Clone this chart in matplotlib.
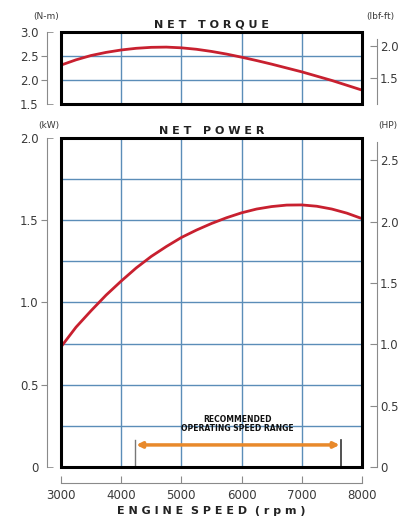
import matplotlib.pyplot as plt
from matplotlib.patches import Rectangle

# engine speed (rpm)
rpm = [3000, 3250, 3500, 3750, 4000, 4250, 4500, 4750, 5000, 5250, 5500,
       5750, 6000, 6250, 6500, 6750, 7000, 7250, 7500, 7750, 8000]
# net torque (N-m)
torque = [2.31, 2.42, 2.51, 2.575, 2.625, 2.66, 2.68, 2.685, 2.67, 2.64, 2.595,
          2.54, 2.475, 2.405, 2.33, 2.25, 2.17, 2.08, 1.99, 1.89, 1.79]
# net power (kW)
power = [0.73, 0.85, 0.95, 1.045, 1.13, 1.21, 1.28, 1.34, 1.395, 1.44, 1.48,
         1.515, 1.545, 1.568, 1.583, 1.592, 1.593, 1.585, 1.568, 1.543, 1.51]

range_start, range_end = 4230, 7650
x_ticks = [3000, 4000, 5000, 6000, 7000, 8000]
x_grid = [4000, 5000, 6000, 7000]
kw_grid = [0.25, 0.5, 0.75, 1.0, 1.25, 1.5, 1.75]

NM_TO_LBFT = 0.7376
KW_TO_HP = 1.341

grid_c = '#5b8db8'
spine_c = '#8a8a8a'
text_c = '#3a3a3a'
red = '#c8202f'
orange = '#e8892b'

fig = plt.figure(figsize=(4.05, 5.26), dpi=100)
ax1 = fig.add_axes([0.1506, 0.8023, 0.743, 0.1369])
ax2 = fig.add_axes([0.1506, 0.1122, 0.743, 0.6255])


def frame(ax):
    ax.add_patch(Rectangle((0, 0), 1, 1, transform=ax.transAxes, fill=False,
                           edgecolor='black', lw=2.2, zorder=5, clip_on=False))
    for s in ['top', 'right']:
        ax.spines[s].set_visible(False)
    ax.spines['left'].set_position(('outward', 10))
    ax.spines['left'].set_color(spine_c)
    ax.tick_params(axis='y', which='major', direction='out', length=4,
                   color=spine_c, labelcolor=text_c, labelsize=8.5, pad=2)
    ax.tick_params(axis='y', which='minor', direction='in', length=4,
                   color=spine_c, labelcolor=text_c, labelsize=8.5, pad=6)
    ax.set_xlim(3000, 8000)
    for x in x_grid:
        ax.axvline(x, color=grid_c, lw=1.0, zorder=1)


def right_axis(ax, lo, hi, factor, ticks, bounds):
    r = ax.twinx()
    r.set_ylim(lo * factor, hi * factor)
    for s in ['top', 'left', 'bottom']:
        r.spines[s].set_visible(False)
    r.spines['right'].set_position(('outward', 11))
    r.spines['right'].set_color(spine_c)
    r.spines['right'].set_bounds(*bounds)
    r.set_yticks(ticks)
    r.set_yticklabels(['0' if t == 0 else f'{t:.1f}' for t in ticks])
    r.tick_params(axis='y', direction='in', length=5, color=spine_c,
                  labelcolor=text_c, labelsize=8.5, pad=2)
    return r


# torque panel
frame(ax1)
ax1.plot(rpm, torque, color=red, lw=2, zorder=3)
ax1.set_ylim(1.5, 3.0)
ax1.set_yticks([2.0, 2.5], ['2.0', '2.5'])
ax1.set_yticks([1.5, 3.0], ['1.5', '3.0'], minor=True)
for y in [2.0, 2.5]:
    ax1.axhline(y, color=grid_c, lw=1.0, zorder=1)
ax1.spines['bottom'].set_visible(False)
ax1.set_xticks([])
right_axis(ax1, 1.5, 3.0, NM_TO_LBFT, [1.5, 2.0], (1.5 * NM_TO_LBFT, 2.1))
ax1.set_title('N E T   T O R Q U E', fontsize=8, fontweight='bold', color='#222222', pad=3)
fig.text(0.083, 0.968, '(N-m)', fontsize=6.5, color=text_c, ha='left', va='center')
fig.text(0.905, 0.968, '(lbf-ft)', fontsize=6.5, color=text_c, ha='left', va='center')

# power panel
frame(ax2)
ax2.plot(rpm, power, color=red, lw=2, zorder=3)
ax2.set_ylim(0, 2.0)
for y in kw_grid:
    ax2.axhline(y, color=grid_c, lw=1.0, zorder=1)
ax2.set_yticks([0.5, 1.0, 1.5], ['0.5', '1.0', '1.5'])
ax2.set_yticks([0, 2.0], ['0', '2.0'], minor=True)
ax2.spines['bottom'].set_position(('outward', 11.5))
ax2.spines['bottom'].set_color(spine_c)
ax2.spines['bottom'].set_bounds(3000, 8000)
ax2.set_xticks(x_ticks)
ax2.tick_params(axis='x', direction='in', length=5, color=spine_c,
                labelcolor=text_c, labelsize=8.5, pad=4)
right_axis(ax2, 0, 2.0, KW_TO_HP, [0, 0.5, 1.0, 1.5, 2.0, 2.5], (0, 2.65))
ax2.set_title('N E T   P O W E R', fontsize=8, fontweight='bold', color='#222222', pad=3)
ax2.set_xlabel('E N G I N E  S P E E D  ( r p m )', fontsize=8, fontweight='bold',
               color='#222222', labelpad=3)
fig.text(0.095, 0.762, '(kW)', fontsize=6.5, color=text_c, ha='left', va='center')
fig.text(0.935, 0.762, '(HP)', fontsize=6.5, color=text_c, ha='left', va='center')

# recommended operating range
ax2.plot([range_start, range_start], [0, 0.165], color='#777777', lw=1, zorder=4)
ax2.plot([range_end, range_end], [0, 0.165], color='#333333', lw=1.2, zorder=4)
ax2.annotate('', xy=(range_start + 20, 0.134), xytext=(range_end - 20, 0.134),
             arrowprops=dict(arrowstyle='<|-|>', color=orange, lw=2.5,
                             mutation_scale=8, shrinkA=0, shrinkB=0), zorder=4)
ax2.text(5930, 0.26, 'RECOMMENDED\nOPERATING SPEED RANGE', ha='center', va='center',
         fontsize=5.5, fontweight='bold', linespacing=1.0, color='#111111',
         family=['Liberation Sans Narrow', 'DejaVu Sans'], zorder=4)

fig.savefig('out.png', dpi=100)
